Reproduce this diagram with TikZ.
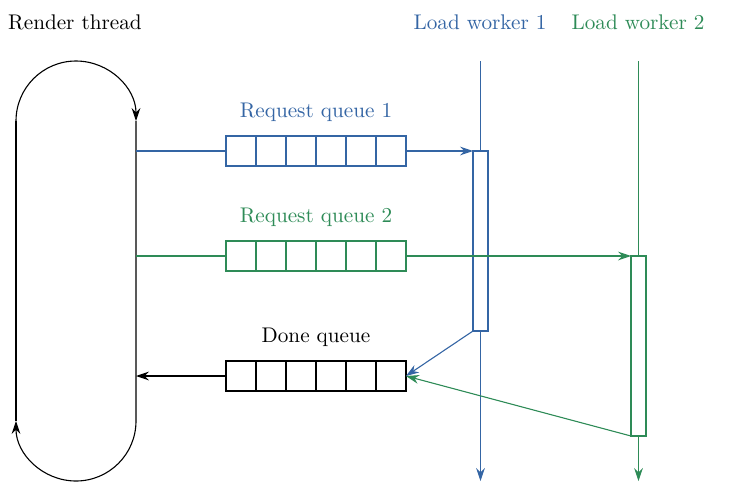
\documentclass[tikz,border=0pt]{standalone}
\usetikzlibrary{arrows.meta}
\definecolor{wblue}{RGB}{52,101,164}
\definecolor{wgreen}{RGB}{46,139,87}
\begin{document}
\begin{tikzpicture}[x=0.5pt,y=-0.5pt,
  every node/.style={font=\fontsize{10.6pt}{12pt}\selectfont},
  line width=0.55pt,
  tip/.style={-{Stealth[length=6.5pt,width=4.4pt]}},
  queue/.style={draw,fill=white,inner sep=0pt,outer sep=0pt,minimum width=90pt,minimum height=15pt},
  act/.style={draw,fill=white,inner sep=0pt,outer sep=0pt,minimum width=7.5pt,minimum height=90pt}]
\useasboundingbox (0,0) rectangle (740,494);
% titles
\node (rt) at (75,22) {Render thread};
\node[text=wblue] (lw1) at (480,22) {Load worker 1};
\node[text=wgreen] (lw2) at (638,22) {Load worker 2};
% render loop
\coordinate (lt) at (16,121);
\coordinate (rtop) at (136,121);
\coordinate (rbot) at (136,421);
\coordinate (lb) at (16,421);
\draw[tip] (lt) arc[start angle=180,end angle=0,radius=30pt];
\draw[tip] (rtop) -- (rbot) arc[start angle=0,end angle=-180,radius=30pt];
\draw (lb) -- (lt);
\coordinate (r1) at (136,151);
\coordinate (r2) at (136,256);
\coordinate (r3) at (136,376);
% queues
\node[queue,draw=wblue] (q1) at (316,151) {};
\node[queue,draw=wgreen] (q2) at (316,256) {};
\node[queue] (dq) at (316,376) {};
\foreach \q/\c in {q1/wblue,q2/wgreen,dq/black}{
  \foreach \i in {1,...,5}{
    \draw[\c] ([xshift=\i*15pt]\q.south west) -- ([xshift=\i*15pt]\q.north west);
  }
}
\node[text=wblue] (q1t) at (316,112) {Request queue 1};
\node[text=wgreen] (q2t) at (316,217) {Request queue 2};
\node (dqt) at (316,337) {Done queue};
% workers
\node[act,draw=wblue] (a1) at (480.5,241) {};
\node[act,draw=wgreen] (a2) at (638.5,346) {};
\coordinate (w1t) at (480.5,61);
\coordinate (w1b) at (480.5,481);
\coordinate (w2t) at (638.5,61);
\coordinate (w2b) at (638.5,481);
\draw[wblue] (w1t) -- (a1.north);
\draw[wblue,tip] (a1.south) -- (w1b);
\draw[wgreen] (w2t) -- (a2.north);
\draw[wgreen,tip] (a2.south) -- (w2b);
% connectors
\draw[wblue] (r1) -- (q1.west);
\draw[wgreen] (r2) -- (q2.west);
\draw[tip] (dq.west) -- (r3);
\draw[wblue,tip] (q1.east) -- (a1.north west);
\draw[wgreen,tip] (q2.east) -- (a2.north west);
\draw[wblue,tip] (a1.south west) -- (dq.east);
\draw[wgreen,tip] (a2.south west) -- (dq.east);
\end{tikzpicture}
\end{document}
